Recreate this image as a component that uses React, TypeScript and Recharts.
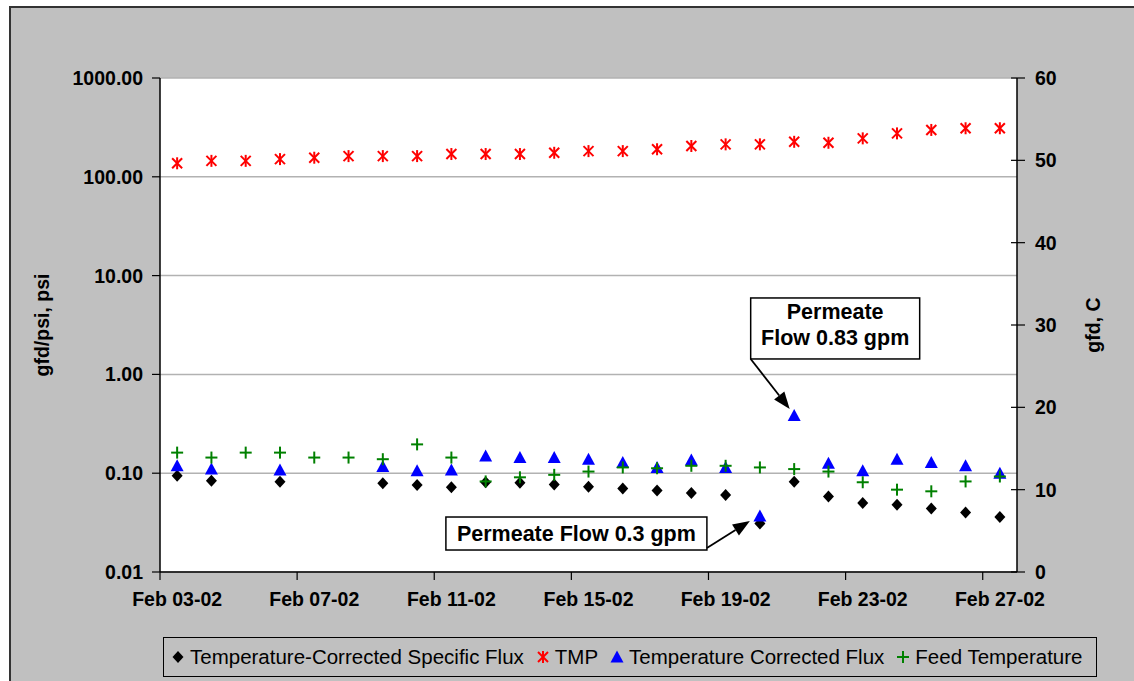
import React from 'react';
import { ScatterChart, Scatter, XAxis, YAxis, CartesianGrid, ReferenceDot } from 'recharts';

// Feb 2002, day of month
const days = [3, 4, 5, 6, 7, 8, 9, 10, 11, 12, 13, 14, 15, 16, 17, 18, 19, 20, 21, 22, 23, 24, 25, 26, 27];
const dayTicks = [3, 7, 11, 15, 19, 23, 27];
const dayTickLabels = ['Feb 03-02', 'Feb 07-02', 'Feb 11-02', 'Feb 15-02', 'Feb 19-02', 'Feb 23-02', 'Feb 27-02'];
const dayBoundaries = [2.5, 6.5, 10.5, 14.5, 18.5, 22.5, 26.5];

const leftTicks = [0.01, 0.1, 1, 10, 100, 1000];
const rightTicks = [0, 10, 20, 30, 40, 50, 60];

// gfd/psi (left, log)
const specificFlux = [0.094, 0.084, null, 0.082, null, null, 0.079, 0.076, 0.072, 0.081, 0.080, 0.077, 0.073, 0.070, 0.067, 0.063, 0.060, 0.031, 0.082, 0.058, 0.050, 0.048, 0.044, 0.040, 0.036];
// psi (left, log)
const tmp = [137, 145, 145, 151, 156, 162, 162, 162, 170, 170, 170, 175, 182, 182, 190, 205, 213, 213, 226, 221, 245, 275, 298, 310, 310];
// gfd (right)
const correctedFlux = [12.9, 12.5, null, 12.4, null, null, 12.8, 12.3, 12.4, 14.1, 13.9, 13.9, 13.7, 13.3, 12.7, 13.6, 12.7, 6.8, 19.0, 13.2, 12.3, 13.7, 13.3, 12.9, 12.0];
// C (right)
const feedTemp = [14.5, 13.9, 14.5, 14.5, 13.9, 13.9, 13.7, 15.5, 13.9, 11.0, 11.5, 11.8, 12.2, 12.7, 12.6, 12.9, 12.9, 12.7, 12.5, 12.2, 10.9, 10.0, 9.8, 11.0, 11.6];

const toPoints = (vals: (number | null)[]) =>
  days.map((day, i) => ({ day, v: vals[i] })).filter(p => p.v !== null);

const FONT = '"Liberation Sans", Arial, Helvetica, sans-serif';

const Diamond = ({ cx, cy }: any) => (
  <path d={`M${cx},${cy - 6}L${cx + 5.5},${cy}L${cx},${cy + 6}L${cx - 5.5},${cy}Z`} fill="#000" />
);
const Asterisk = ({ cx, cy }: any) => (
  <g stroke="#ff0000" strokeWidth={2}>
    <line x1={cx - 5} y1={cy - 5} x2={cx + 5} y2={cy + 5} />
    <line x1={cx - 5} y1={cy + 5} x2={cx + 5} y2={cy - 5} />
    <line x1={cx} y1={cy - 6} x2={cx} y2={cy + 6} />
  </g>
);
const Triangle = ({ cx, cy }: any) => (
  <path d={`M${cx},${cy - 6.5}L${cx + 6.5},${cy + 5.5}L${cx - 6.5},${cy + 5.5}Z`} fill="#0000ff" />
);
const Plus = ({ cx, cy }: any) => (
  <g stroke="#008000" strokeWidth={2}>
    <line x1={cx - 6} y1={cy} x2={cx + 6} y2={cy} />
    <line x1={cx} y1={cy - 6} x2={cx} y2={cy + 6} />
  </g>
);

const Arrow = ({ x1, y1, x2, y2 }: any) => {
  const a = Math.atan2(y2 - y1, x2 - x1);
  const len = 17, w = 6.5;
  const bx = x2 - len * Math.cos(a), by = y2 - len * Math.sin(a);
  const px = -Math.sin(a) * w, py = Math.cos(a) * w;
  return (
    <g>
      <line x1={x1} y1={y1} x2={bx} y2={by} stroke="#000" strokeWidth={1.8} />
      <path d={`M${x2},${y2}L${bx + px},${by + py}L${bx - px},${by - py}Z`} fill="#000" />
    </g>
  );
};

const noteText = { fontFamily: FONT, fontWeight: 700, fontSize: 21.5, fill: '#000', textAnchor: 'middle' as const };

const HighFlowNote = ({ cx, cy }: any) => (
  <g>
    <rect x={cx - 43.5} y={cy - 117.6} width={169} height={61} fill="#fff" stroke="#000" strokeWidth={1.5} />
    <text x={cx + 41} y={cy - 96.6} {...noteText}>Permeate</text>
    <text x={cx + 41} y={cy - 70.6} {...noteText}>Flow 0.83 gpm</text>
    <Arrow x1={cx - 43.5} y1={cy - 56.6} x2={cx - 4.5} y2={cy - 6.6} />
  </g>
);

const LowFlowNote = ({ cx, cy }: any) => (
  <g>
    <rect x={cx - 314} y={cy + 1} width={261} height={33} fill="#fff" stroke="#000" strokeWidth={1.5} />
    <text x={cx - 183.5} y={cy + 25} {...noteText}>Permeate Flow 0.3 gpm</text>
    <Arrow x1={cx - 53} y1={cy + 32} x2={cx - 10} y2={cy + 5} />
  </g>
);

const tickFont = { fontFamily: FONT, fontWeight: 700, fontSize: 19.5, fill: '#000' };

// x axis: tick marks sit between days, labels sit on the day
const DateTick = ({ x, y, payload }: any) => {
  const ay = y - 20;
  const i = dayTicks.indexOf(payload.value);
  if (i < 0) {
    return <line x1={x} y1={ay} x2={x} y2={ay + 8} stroke="#000" strokeWidth={1.2} />;
  }
  return <text x={x} y={y} dy="0.71em" textAnchor="middle" {...tickFont}>{dayTickLabels[i]}</text>;
};

const RightTick = ({ x, y, payload }: any) => {
  const ax = x - 18;
  return (
    <g>
      <line x1={ax - 6} y1={y} x2={ax + 8} y2={y} stroke="#000" strokeWidth={1.2} />
      <text x={x} y={y} dy="0.355em" textAnchor="start" {...tickFont}>{payload.value}</text>
    </g>
  );
};

const legendItems = [
  { name: 'Temperature-Corrected Specific Flux', Shape: Diamond },
  { name: 'TMP', Shape: Asterisk },
  { name: 'Temperature Corrected Flux', Shape: Triangle },
  { name: 'Feed Temperature', Shape: Plus },
];

const xTicks = [...dayBoundaries, ...dayTicks].sort((a, b) => a - b);

export default function App() {
  return (
    <div style={{ position: 'relative', width: 1134, height: 681, overflow: 'hidden', fontFamily: FONT }}>
      <style>{'body{margin:0}'}</style>
      <div style={{ position: 'absolute', left: 9, top: 6, width: 1200, height: 760, background: '#c0c0c0', borderLeft: '2px solid #333', borderTop: '2px solid #333' }} />
      <div style={{ position: 'absolute', left: 0, top: 0 }}>
        <ScatterChart width={1134} height={681} margin={{ top: 78, right: 37, bottom: 79, left: 60 }}>
          <CartesianGrid xAxisId="x" yAxisId="l" vertical={false} fill="#ffffff" stroke="#b2b2b2" strokeWidth={1.5} />
          <XAxis xAxisId="x" dataKey="day" type="number" domain={[2.5, 27.5]} ticks={xTicks} interval={0} allowDataOverflow
            height={30} tickLine={false} tickSize={8} tickMargin={12}
            axisLine={{ stroke: '#000', strokeWidth: 1.5 }} tick={<DateTick />} />
          <YAxis yAxisId="l" dataKey="v" scale="log" domain={[0.01, 1000]} ticks={leftTicks} allowDataOverflow
            width={100} tickSize={8} tickMargin={9} tickFormatter={(v: number) => v.toFixed(2)}
            axisLine={{ stroke: '#000', strokeWidth: 1.5 }} tickLine={{ stroke: '#000', strokeWidth: 1.2 }} tick={tickFont}
            label={{
              content: ({ viewBox }: any) => (
                <text x={viewBox.x - 18} y={viewBox.y + viewBox.height / 2} transform={`rotate(-90, ${viewBox.x - 18}, ${viewBox.y + viewBox.height / 2})`}
                  textAnchor="middle" dy="0.355em" {...tickFont}>gfd/psi, psi</text>
              ),
            }} />
          <YAxis yAxisId="r" dataKey="v" orientation="right" domain={[0, 60]} ticks={rightTicks} allowDataOverflow
            width={80} tickSize={8} tickMargin={10} tickLine={false} tick={<RightTick />}
            axisLine={{ stroke: '#000', strokeWidth: 1.5 }}
            label={{
              content: ({ viewBox }: any) => (
                <text x={viewBox.x + 76} y={viewBox.y + viewBox.height / 2} transform={`rotate(-90, ${viewBox.x + 76}, ${viewBox.y + viewBox.height / 2})`}
                  textAnchor="middle" dy="0.355em" {...tickFont}>gfd, C</text>
              ),
            }} />
          <Scatter name="Temperature-Corrected Specific Flux" data={toPoints(specificFlux)} xAxisId="x" yAxisId="l" shape={Diamond} isAnimationActive={false} />
          <Scatter name="TMP" data={toPoints(tmp)} xAxisId="x" yAxisId="l" shape={Asterisk} isAnimationActive={false} />
          <Scatter name="Temperature Corrected Flux" data={toPoints(correctedFlux)} xAxisId="x" yAxisId="r" shape={Triangle} isAnimationActive={false} />
          <Scatter name="Feed Temperature" data={toPoints(feedTemp)} xAxisId="x" yAxisId="r" shape={Plus} isAnimationActive={false} />
          <ReferenceDot xAxisId="x" yAxisId="r" x={days[18]} y={correctedFlux[18]} shape={HighFlowNote} />
          <ReferenceDot xAxisId="x" yAxisId="r" x={days[17]} y={correctedFlux[17]} shape={LowFlowNote} />
        </ScatterChart>
      </div>
      <div style={{
        position: 'absolute', left: 163, top: 637, width: 934, height: 40, boxSizing: 'border-box',
        border: '1px solid #000', display: 'flex', alignItems: 'center', paddingLeft: 7, fontSize: 20.5, color: '#000', whiteSpace: 'nowrap',
      }}>
        {legendItems.map(({ name, Shape }, i) => (
          <div key={name} style={{ display: 'flex', alignItems: 'center', marginLeft: i === 0 ? 0 : 12 }}>
            <svg width={14} height={14} style={{ marginRight: 5 }}>
              <Shape cx={7} cy={7} />
            </svg>
            <span>{name}</span>
          </div>
        ))}
      </div>
    </div>
  );
}
